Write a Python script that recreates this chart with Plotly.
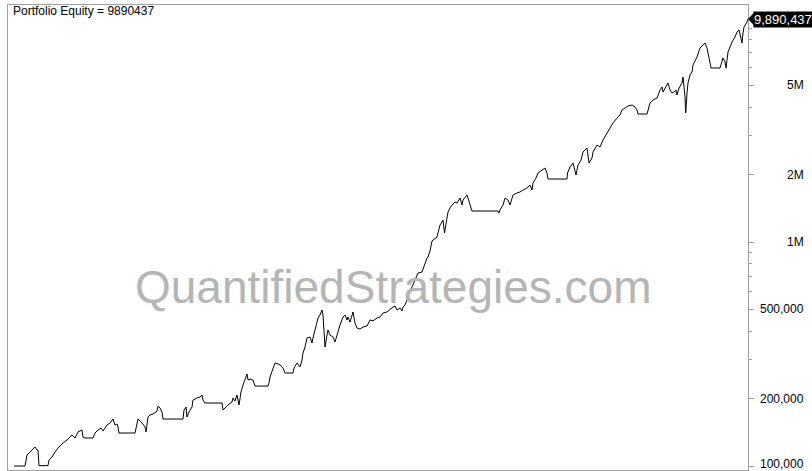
import math
import plotly.graph_objects as go

# ---- data ----
bars = [
    0, 110, 130, 160, 190, 210, 230, 240, 250, 340,
    350, 380, 410, 440, 490, 530, 580, 610, 640, 680,
    690, 710, 790, 810, 840, 870, 890, 930, 960, 990,
    1010, 1030, 1040, 1050, 1210, 1230, 1240, 1280, 1310, 1320,
    1340, 1360, 1390, 1430, 1440, 1460, 1480, 1490, 1690,
    1700, 1720, 1730, 1750, 1780, 1790, 1830, 1860, 1880, 1890,
    1910, 2080, 2090, 2110, 2140, 2180, 2190, 2210, 2230, 2250,
    2270, 2290, 2310, 2330, 2340, 2360, 2390, 2410, 2540, 2550,
    2560, 2590, 2610, 2640, 2660, 2690, 2710, 2790, 2800, 2830,
    2860, 2880, 2890, 2910, 2930, 2960, 2980, 2990, 3010, 3030,
    3040, 3060, 3080, 3090, 3100, 3110, 3130, 3140, 3160, 3190,
    3210, 3230, 3240, 3260, 3290, 3310, 3330, 3340, 3360, 3380,
    3390, 3410, 3430, 3460, 3490, 3530, 3560, 3590, 3630, 3660,
    3690, 3730, 3760, 3790, 3810, 3830, 3860, 3880, 3890, 3910,
    3930, 3940, 3980, 4010, 4040, 4080, 4110, 4130, 4140, 4160,
    4180, 4190, 4230, 4240, 4260, 4280, 4290, 4305, 4320, 4340,
    4360, 4380, 4410, 4430, 4460, 4480, 4490, 4530, 4540, 4560,
    4580, 4840, 4850, 4860, 4890, 4910, 4940, 4960, 4990, 5030,
    5060, 5090, 5130, 5160, 5180, 5190, 5220, 5240, 5280, 5310,
    5330, 5340, 5530, 5535, 5560, 5590, 5620, 5640, 5670, 5690,
    5730, 5750, 5780, 5790, 5830, 5860, 5890, 5930, 5960, 5990,
    6030, 6060, 6080, 6110, 6140, 6180, 6210, 6230, 6240, 6330,
    6360, 6390, 6430, 6460, 6480, 6490, 6510, 6530, 6540, 6560,
    6580, 6600, 6620, 6630, 6650, 6680, 6690, 6710, 6717, 6730,
    6740, 6760, 6780, 6790, 6830, 6860, 6890, 6910, 6930, 6940,
    6960, 6970, 7060, 7070, 7090, 7110, 7120, 7140, 7180, 7210,
    7230, 7250, 7280, 7290, 7300, 7330, 7340,
]

equity = [
    100000, 100000, 112000, 115500, 120300, 121600, 117900, 117900, 100400, 100400,
    106400, 109700, 115500, 120300, 126700, 130700, 137500, 133400, 141900, 144800,
    134700, 133400, 133400, 140400, 144800, 147800, 143300, 152400, 155600, 162100,
    152400, 154000, 149300, 140400, 140400, 157200, 162100, 155600, 149300, 141900,
    165500, 168900, 170700, 176000, 185300, 181600, 174200, 162100, 162100,
    177800, 183400, 165500, 174200, 183400, 197000, 201200, 203200, 207500, 197000,
    191100, 191100, 177800, 181600, 187200, 193100, 201200, 195100, 207500, 187200,
    214000, 229900, 242000, 257500, 242000, 244500, 242000, 227500, 227500, 234700,
    249700, 273800, 288300, 285400, 282400, 273800, 260100, 260100, 273800, 288300,
    276700, 297300, 319500, 339800, 372800, 376600, 354100, 372800, 404700, 439400,
    457800, 472100, 497000, 472100, 376600, 339800, 384400, 404700, 384400, 376600,
    357800, 384400, 396400, 426100, 462600, 472100, 448600, 462600, 439400, 472100,
    487000, 434900, 413100, 408900, 417400, 421700, 448600, 445000, 457800, 462600,
    482000, 487000, 502200, 512600, 518000, 497000, 507500, 492000, 512600, 523300,
    551000, 580000, 629700, 676800, 727100, 734600, 805900, 848400, 857200, 911700,
    1010000, 1020800, 1052700, 1108300, 1190900, 1228300, 1253600, 1096900, 1215700, 1361200,
    1418700, 1463100, 1508700, 1493400, 1571800, 1463100, 1539900, 1621200, 1571800, 1463100,
    1375000, 1375000, 1347300, 1389700, 1463100, 1571800, 1539900, 1463100, 1621200, 1655000,
    1672000, 1706800, 1742400, 1796700, 1706800, 1834200, 1930700, 2032500, 2096000, 2139700,
    2032500, 1911000, 1911000, 2032500, 2161800, 2252300, 1991200, 2206600, 2322500, 2522300,
    2627800, 2252300, 2371400, 2522300, 2710200, 2655200, 2853700, 3066000, 3228200, 3398300,
    3577500, 3689700, 3884200, 3964300, 4046500, 4088700, 4005100, 3884200, 3727600, 3727600,
    4173500, 4303400, 4394000, 4770600, 4920400, 4673300, 4869600, 5021600, 5125600, 4770600,
    4626100, 4673300, 4770600, 4532300, 4869600, 5125600, 5453000, 4439100, 3766000, 4626100,
    5125600, 5566500, 5741000, 6169500, 6698500, 7345900, 7576400, 7733500, 7345900, 6979900,
    6493800, 5981300, 5981300, 6169500, 6629800, 6362100, 5981300, 7051400, 7813700, 8225700,
    8659600, 8838800, 7733500, 8570800, 9117100, 9596500, 9890437,
]

tick_values = [100000, 200000, 500000, 1000000, 2000000, 5000000]
tick_labels = ["100,000", "200,000", "500,000", "1M", "2M", "5M"]
minor_values = [300000, 400000, 600000, 700000, 800000, 900000,
                3000000, 4000000, 6000000, 7000000, 8000000, 9000000]

title_text = "Portfolio Equity = " + str(equity[-1])
last_label = f"{equity[-1]:,}"
watermark = "QuantifiedStrategies.com"

# ---- styling / layout ----
FONT = "Liberation Sans, Arial, sans-serif"
BORDER = "#a0a0a0"
Y_LO, Y_HI = 96000, 11430000
lo, hi = math.log10(Y_LO), math.log10(Y_HI)


def frac(v):
    return (math.log10(v) - lo) / (hi - lo)


fig = go.Figure()
fig.add_trace(go.Scatter(
    x=bars, y=equity, mode="lines",
    line=dict(color="black", width=1),
    hoverinfo="skip", showlegend=False,
))

annotations = [
    dict(text=watermark, xref="paper", yref="paper", x=0.5216, y=0.3935,
         xanchor="center", yanchor="middle", showarrow=False,
         font=dict(family=FONT, size=46, color="#b5b5b5")),
    dict(text=title_text, xref="paper", yref="paper", x=0, y=1,
         xanchor="left", yanchor="top", xshift=3, yshift=3, showarrow=False,
         font=dict(family=FONT, size=12, color="black")),
]
for v, t in zip(tick_values, tick_labels):
    annotations.append(dict(
        text=t, xref="paper", yref="paper", x=1.0784, y=frac(v),
        xanchor="right", yanchor="middle", showarrow=False,
        yshift=2 if v == tick_values[0] else 0,
        font=dict(family=FONT, size=12, color="black")))

fy = frac(equity[-1])
annotations.append(dict(
    text=last_label, xref="paper", yref="paper", x=1.0065, y=fy,
    xanchor="left", yanchor="middle", showarrow=False, bgcolor="black",
    borderpad=0, font=dict(family=FONT, size=13, color="white")))

dx = 1 / 740
dy = 1 / 465
shapes = [dict(
    type="path", xref="paper", yref="paper",
    path=f"M 1,{fy} L {1 + 7 * dx},{fy + 7.5 * dy} L {1 + 7 * dx},{fy - 7.5 * dy} Z",
    fillcolor="black", line=dict(width=0),
)]

fig.update_layout(
    width=812, height=471,
    margin=dict(l=8, r=64, t=5, b=1),
    paper_bgcolor="white", plot_bgcolor="white",
    xaxis=dict(range=[-60, 7340], showticklabels=False, ticks="",
               showgrid=False, zeroline=False, showline=True, mirror=True,
               linecolor=BORDER, linewidth=1),
    yaxis=dict(type="log", range=[lo, hi], side="right",
               tickmode="array", tickvals=tick_values, showticklabels=False,
               ticks="outside", ticklen=5, tickcolor=BORDER,
               minor=dict(tickmode="array", tickvals=minor_values,
                          ticks="outside", ticklen=3, tickcolor=BORDER),
               showgrid=False, zeroline=False, showline=True, mirror=True,
               linecolor=BORDER, linewidth=1),
    annotations=annotations,
    shapes=shapes,
)

fig.write_html(
    "out.html",
    config={"displayModeBar": False},
    post_script="document.body.style.margin='0';document.body.style.overflow='hidden';",
)
